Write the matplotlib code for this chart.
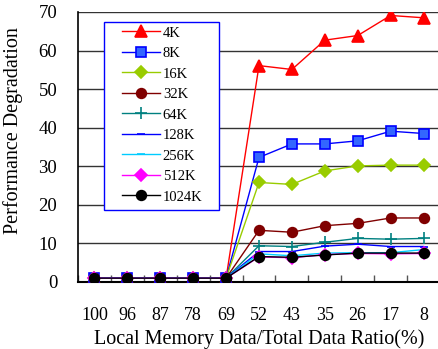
import matplotlib
matplotlib.use("Agg")
import matplotlib.pyplot as plt
from matplotlib.patches import Rectangle

plt.rcParams['font.family'] = ['Liberation Serif', 'DejaVu Serif']

ratios = ["100", "96", "87", "78", "69", "52", "43", "35", "26", "17", "8"]

# performance degradation per cache size
d4k = [1.0, 1.0, 1.0, 1.0, 1.0, 56.1, 55.1, 62.7, 63.9, 69.1, 68.5]
d8k = [1.0, 1.0, 1.0, 1.0, 1.0, 32.3, 35.8, 35.8, 36.6, 39.1, 38.5]
d16k = [1.0, 1.0, 1.0, 1.0, 1.0, 25.8, 25.3, 28.8, 30.1, 30.3, 30.3]
d32k = [1.0, 1.0, 1.0, 1.0, 1.0, 13.4, 12.9, 14.6, 15.2, 16.6, 16.6]
d64k = [1.0, 1.0, 1.0, 1.0, 1.0, 9.4, 9.2, 10.3, 11.3, 11.1, 11.3]
d128k = [1.0, 1.0, 1.0, 1.0, 1.0, 7.9, 7.9, 9.3, 9.8, 9.2, 9.2]
d256k = [1.0, 1.0, 1.0, 1.0, 1.0, 7.3, 6.8, 7.5, 7.6, 7.6, 8.4]
d512k = [1.0, 1.0, 1.0, 1.0, 1.0, 6.5, 6.3, 7.1, 7.4, 7.3, 7.4]
d1024k = [1.0, 1.0, 1.0, 1.0, 1.0, 6.6, 6.4, 7.0, 7.5, 7.5, 7.5]

series = [
    ("4K", d4k, "#ff0000", "^", "#ff0000", "#ff0000", 8),
    ("8K", d8k, "#0000ff", "s", "#3366ff", "#0000ff", 7),
    ("16K", d16k, "#99cc00", "D", "#99cc00", "#99cc00", 6),
    ("32K", d32k, "#800000", "o", "#800000", "#800000", 7),
    ("64K", d64k, "#008080", "+", "#008080", "#008080", 8),
    ("128K", d128k, "#0000ff", "_", "#0000ff", "#0000ff", 6),
    ("256K", d256k, "#00ccff", "_", "#00ccff", "#00ccff", 6),
    ("512K", d512k, "#ff00ff", "D", "#ff00ff", "#ff00ff", 6),
    ("1024K", d1024k, "#000000", "o", "#000000", "#000000", 7),
]

fig = plt.figure(figsize=(4.38, 3.49), dpi=100)
ax = fig.add_axes([78 / 438, 67 / 349, 362 / 438, 270 / 349])

x = list(range(len(ratios)))
for name, vals, col, mk, fc, ec, ms in series:
    ax.plot(x, vals, color=col, lw=1.0, marker=mk, markersize=ms,
            markerfacecolor=fc, markeredgecolor=ec, markeredgewidth=1.2,
            label=name, zorder=3)

ax.set_xlim(-0.453, 10.48)
ax.set_ylim(0, 70)
ax.set_yticks(range(0, 71, 10))
ax.yaxis.grid(True, color="#333333", lw=1.0)
ax.set_axisbelow(True)

ax.set_xticks(x)
ax.set_xticklabels(ratios, fontsize=13)
ax.set_xticks([i + 0.5 for i in range(-1, 11)], minor=True)
ax.tick_params(axis="x", which="major", length=0, pad=18)
ax.tick_params(axis="x", which="minor", direction="in", length=5, width=1, color="#555555")
ax.tick_params(axis="y", length=0, labelsize=13.5, pad=15)

ax.spines["top"].set_visible(False)
ax.spines["right"].set_visible(False)
ax.spines["bottom"].set_linewidth(1.5)
ax.spines["left"].set_linewidth(1.2)

ax.set_xlabel("Local Memory Data/Total Data Ratio(%)", fontsize=14.5, labelpad=4)
ax.set_ylabel("Performance Degradation", fontsize=14.5)
ax.yaxis.set_label_coords(-0.152, 0.56)

# legend box drawn separately so padding matches the reference
ax.add_patch(Rectangle((0.0718, 0.2667), 0.3177, 0.696, transform=ax.transAxes,
                       facecolor="white", edgecolor="#0000ff", lw=1.0, zorder=4))
leg = ax.legend(loc="upper left", bbox_to_anchor=(0.1215, 0.947), fontsize=10.5,
                frameon=False, handlelength=2.6, handletextpad=0.2,
                labelspacing=0.5, borderpad=0, borderaxespad=0)
leg.set_zorder(5)

fig.savefig("out.png", dpi=100)
